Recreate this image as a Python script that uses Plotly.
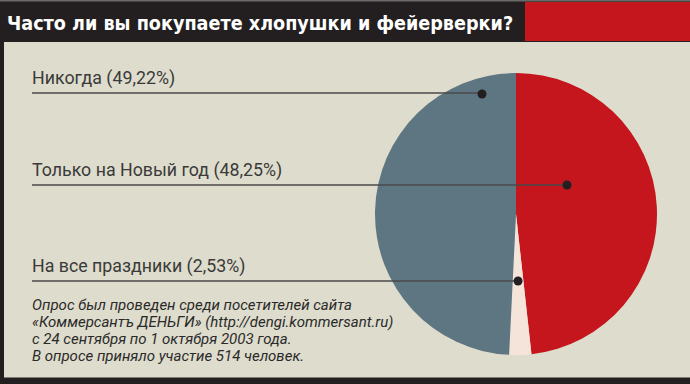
import plotly.graph_objects as go
import math

# ---- data ----
title_text = "Часто ли вы покупаете хлопушки и фейерверки?"
categories = ["Только на Новый год", "На все праздники", "Никогда"]
values = [48.25, 2.53, 49.22]
slice_colors = ["#c4161c", "#f5e4da", "#5e7582"]
note_lines = [
    "Опрос был проведен среди посетителей сайта",
    "«Коммерсантъ ДЕНЬГИ» (http://dengi.kommersant.ru)",
    "с 24 сентября по 1 октября 2003 года.",
    "В опросе приняло участие 514 человек.",
]

# ---- layout constants (pixels) ----
W, H = 690, 384
CX, CY, R = 516, 214, 141
BG = "#dedccc"
DARK = "#231f20"
LABEL_X = 32
label_line_y = {"Никогда": 93, "Только на Новый год": 185, "На все праздники": 281}
dot_xy = {"Никогда": (482, 94), "Только на Новый год": (567, 185)}


def fmt(v):
    return ("%.2f" % v).replace(".", ",")


def px(x):
    return x / W


def py(y):
    return 1 - y / H


fig = go.Figure()

fig.add_trace(go.Pie(
    labels=categories, values=values, sort=False, direction="clockwise",
    rotation=0, marker=dict(colors=slice_colors, line=dict(width=0)),
    textinfo="none", hoverinfo="label+percent", showlegend=False,
    domain=dict(x=[px(CX - R), px(CX + R)], y=[py(CY + R), py(CY - R)]),
))

# dot for the small slice: at the slice's mid-angle on its label line
total = sum(values)
cum = 0
for c, v in zip(categories, values):
    if c == "На все праздники":
        mid = (cum + v / 2) / total * 2 * math.pi
        ly = label_line_y[c]
        dy = ly - CY
        dx = -dy * math.tan(mid)
        dot_xy[c] = (CX + dx, ly)
    cum += v

shapes = [
    dict(type="rect", xref="paper", yref="paper", x0=0, x1=1, y0=py(H), y1=py(0), fillcolor=DARK, line_width=0, layer="below"),
    dict(type="rect", xref="paper", yref="paper", x0=0, x1=1, y0=py(1.5), y1=py(0), fillcolor="#6a6a6a", line_width=0, layer="below"),
    dict(type="rect", xref="paper", yref="paper", x0=px(4), x1=1, y0=py(377.5), y1=py(42), fillcolor=BG, line_width=0, layer="below"),
    dict(type="rect", xref="paper", yref="paper", x0=px(525), x1=1, y0=py(41), y1=py(2), fillcolor="#c4161c", line_width=0, layer="below"),
]

for c, v in zip(categories, values):
    ly = label_line_y[c]
    dx_, dy_ = dot_xy[c]
    shapes.append(dict(type="line", xref="paper", yref="paper", x0=px(LABEL_X), x1=px(dx_),
                       y0=py(ly), y1=py(ly), line=dict(color="#4a4a4a", width=1.3), layer="above"))
    r = 4.5
    shapes.append(dict(type="circle", xref="paper", yref="paper", x0=px(dx_ - r), x1=px(dx_ + r),
                       y0=py(dy_ + r), y1=py(dy_ - r), fillcolor=DARK, line_width=0, layer="above"))
    fig.add_annotation(
        x=px(LABEL_X - 2), y=py(ly - 2), xref="paper", yref="paper", xanchor="left", yanchor="bottom",
        text="%s (%s%%)" % (c, fmt(v)), showarrow=False,
        font=dict(family="Roboto, Arial, sans-serif", size=17.8, color="#3a3a3a"))

for i, line in enumerate(note_lines):
    fig.add_annotation(
        x=px(LABEL_X - 2), y=py(305 + 17 * i), xref="paper", yref="paper", xanchor="left", yanchor="middle",
        text="<i>%s</i>" % line, showarrow=False,
        font=dict(family="Roboto, Arial, sans-serif", size=15, color="#2a2a2a"))

fig.add_annotation(
    x=px(5), y=py(23), xref="paper", yref="paper", xanchor="left", yanchor="middle",
    text="<b>%s</b>" % title_text, showarrow=False,
    font=dict(family="Liberation Sans Narrow, DejaVu Sans Condensed, Arial Narrow, sans-serif",
              size=19.6, color="#ffffff"))

fig.update_layout(
    width=W, height=H, margin=dict(l=0, r=0, t=0, b=0, pad=0),
    paper_bgcolor=DARK, plot_bgcolor="rgba(0,0,0,0)",
    shapes=shapes,
)

fig.write_html("out.html", config={"displayModeBar": False},
               post_script="document.body.style.margin='0';document.body.style.padding='0';")
